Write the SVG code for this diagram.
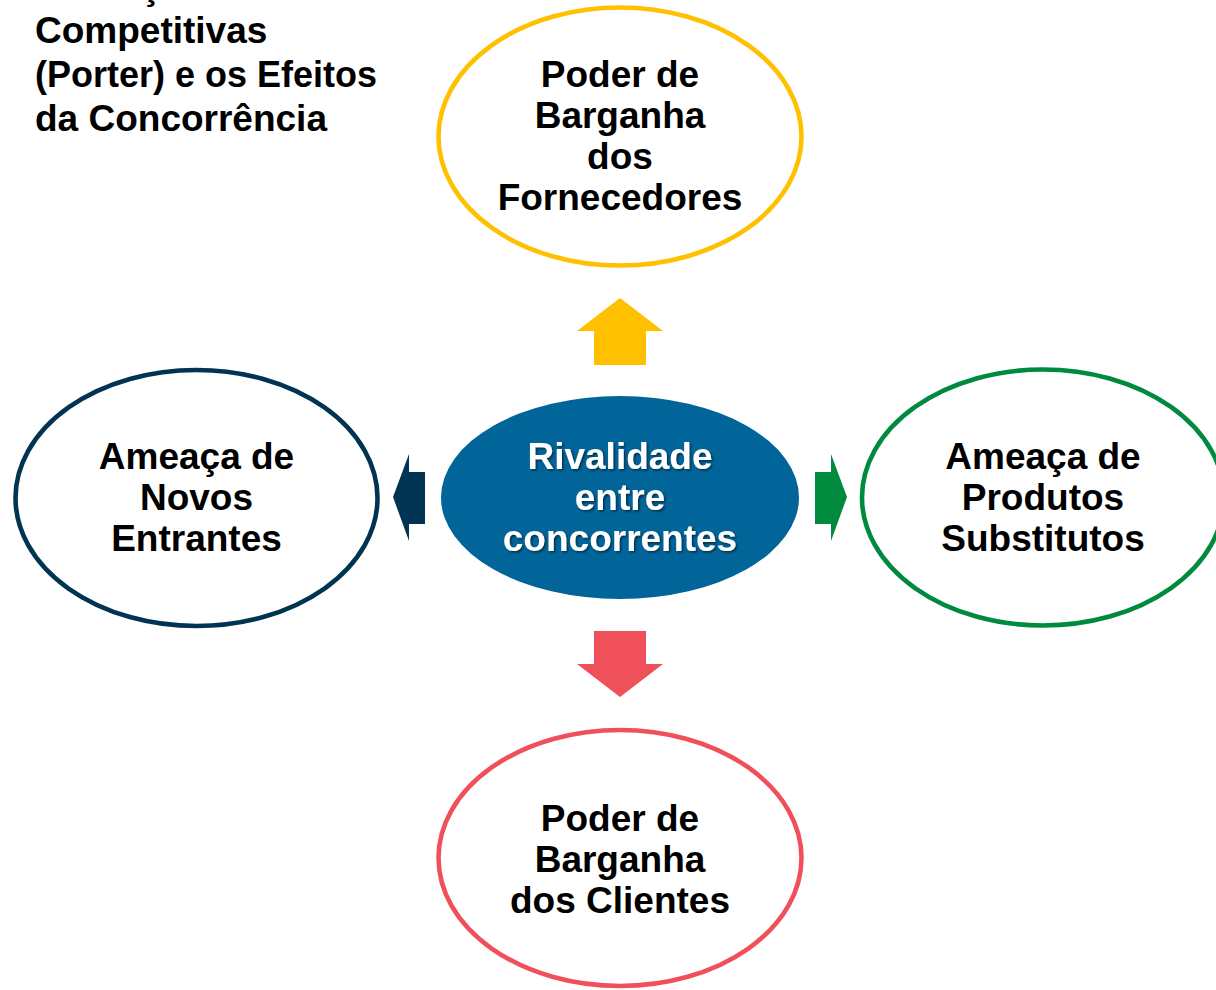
<svg xmlns="http://www.w3.org/2000/svg" width="1216" height="990" viewBox="0 0 1216 990">
  <style>
    .t { font-family: "Liberation Sans", Arial, sans-serif; font-weight: bold; font-size: 37px; fill: #000000; }
    .c { text-anchor: middle; }
    .w { fill: #ffffff; }
    .ring { fill: #ffffff; stroke-width: 4.6; }
  </style>
  <defs>
    <filter id="shadow" x="-10%" y="-10%" width="120%" height="130%">
      <feDropShadow dx="1.5" dy="1.5" stdDeviation="0.8" flood-color="#000000" flood-opacity="0.55"/>
    </filter>
  </defs>
  <rect x="0" y="0" width="1216" height="990" fill="#ffffff"/>

  <g id="title">
    <text class="t" x="23" y="-1">As Forças</text>
    <text class="t" x="35" y="43">Competitivas</text>
    <text class="t" x="35" y="87" textLength="342" lengthAdjust="spacingAndGlyphs">(Porter) e os Efeitos</text>
    <text class="t" x="35" y="131">da Concorrência</text>
  </g>

  <g id="connectors">
    <polygon fill="#FFC000" points="620,298 663,331 646,331 646,365 594,365 594,331 577,331"/>
    <polygon fill="#F0505A" points="620,697 663,664 646,664 646,631 594,631 594,664 577,664"/>
    <polygon fill="#003452" points="393,497 409,454 409,472 425,472 425,524 409,524 409,541"/>
    <polygon fill="#008A3E" points="847,497 831,454 831,472 815,472 815,524 831,524 831,541"/>
  </g>

  <g id="node-fornecedores">
    <ellipse class="ring" cx="620" cy="136.5" rx="181.5" ry="129" stroke="#FFC000"/>
    <text class="t c" x="620" y="87">Poder de</text>
    <text class="t c" x="620" y="128">Barganha</text>
    <text class="t c" x="620" y="169">dos</text>
    <text class="t c" x="620" y="210">Fornecedores</text>
  </g>

  <g id="node-entrantes">
    <ellipse class="ring" cx="196.5" cy="498" rx="181" ry="128" stroke="#003452"/>
    <text class="t c" x="196.5" y="469">Ameaça de</text>
    <text class="t c" x="196.5" y="510">Novos</text>
    <text class="t c" x="196.5" y="551">Entrantes</text>
  </g>

  <g id="node-rivalidade">
    <ellipse cx="620" cy="497.5" rx="179" ry="101.5" fill="#02659A"/>
    <g filter="url(#shadow)">
      <text class="t c w" x="620" y="469">Rivalidade</text>
      <text class="t c w" x="620" y="510">entre</text>
      <text class="t c w" x="620" y="551">concorrentes</text>
    </g>
  </g>

  <g id="node-substitutos">
    <ellipse class="ring" cx="1043" cy="497.5" rx="181" ry="128" stroke="#008A3E"/>
    <text class="t c" x="1043" y="469">Ameaça de</text>
    <text class="t c" x="1043" y="510">Produtos</text>
    <text class="t c" x="1043" y="551">Substitutos</text>
  </g>

  <g id="node-clientes">
    <ellipse class="ring" cx="620" cy="858" rx="181.5" ry="128" stroke="#F0505A"/>
    <text class="t c" x="620" y="831">Poder de</text>
    <text class="t c" x="620" y="872">Barganha</text>
    <text class="t c" x="620" y="913">dos Clientes</text>
  </g>
</svg>
